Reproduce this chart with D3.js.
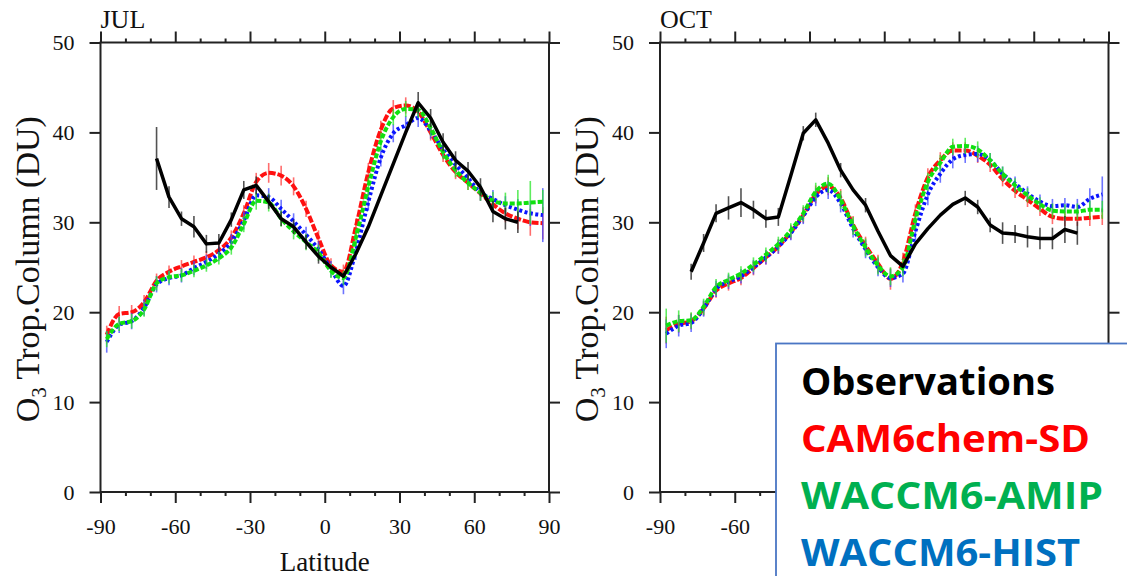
<!DOCTYPE html>
<html>
<head>
<meta charset="utf-8">
<script src="https://cdn.jsdelivr.net/npm/d3@7"></script>
<style>
  html, body { margin: 0; padding: 0; background: #fff; }
  svg { display: block; }
</style>
</head>
<body>
<svg id="chart" width="1127" height="576"></svg>
<script>
// ---- Data: zonal-mean tropospheric ozone column (DU) ----
const modelLat = [-87.5,-82.5,-77.5,-72.5,-67.5,-62.5,-57.5,-52.5,-47.5,-42.5,-37.5,-32.5,-27.5,-22.5,-17.5,-12.5,-7.5,-2.5,
                  2.5,7.5,12.5,17.5,22.5,27.5,32.5,37.5,42.5,47.5,52.5,57.5,62.5,67.5,72.5,77.5,82.5,87.5];

const julCam  = [17.5,19.8,20.0,21.1,23.5,24.5,25.1,25.6,26.1,26.9,28.3,31.0,34.5,35.5,35.2,34.0,31.5,28.2,
                 25.2,24.5,29.5,35.6,40.3,42.7,43.0,42.3,40.0,37.5,35.6,34.4,33.2,32.0,31.0,30.4,30.0,29.9];
const julAmip = [17.0,18.7,19.0,20.3,23.2,23.9,24.1,24.6,25.2,26.0,27.2,29.8,32.4,32.2,30.4,29.0,27.8,26.6,
                 24.6,23.8,28.3,34.0,39.0,41.7,42.6,42.5,40.5,37.8,35.8,34.4,33.3,32.4,32.1,32.1,32.2,32.3];
const julHist = [16.7,18.6,19.0,20.5,23.1,23.8,24.1,24.9,25.6,26.5,27.8,30.2,33.0,32.8,31.5,30.1,28.6,27.0,
                 24.8,22.9,26.8,32.3,37.2,39.9,40.8,41.6,40.2,38.1,36.4,34.9,33.3,32.6,31.9,31.4,31.0,30.8];
const julCamErr  = [1.0,0.9,0.8,0.8,0.8,0.7,0.7,0.7,0.7,0.7,0.8,0.9,1.0,1.1,1.1,1.0,0.9,0.9,
                    0.8,0.8,0.9,1.0,1.0,0.9,0.9,0.9,0.9,0.8,0.8,0.8,0.8,0.9,1.0,1.2,1.5,1.8];
const julAmipErr = [0.9,0.8,0.8,0.8,0.8,0.7,0.7,0.7,0.7,0.7,0.8,0.9,1.0,1.0,0.9,0.9,0.9,0.9,
                    0.8,0.8,0.9,1.0,1.0,0.9,0.9,0.9,0.9,0.8,0.8,0.8,0.9,1.0,1.2,1.5,2.4,1.3];
const julHistErr = [1.2,0.9,0.9,0.9,0.9,0.8,0.8,0.8,0.8,0.8,0.9,1.0,1.0,1.0,1.0,0.9,0.9,0.9,
                    0.9,0.9,1.0,1.0,1.0,1.0,1.0,1.0,0.9,0.9,0.9,0.9,0.9,1.0,1.0,1.2,1.4,3.0];

const octCam  = [18.0,18.7,19.0,20.4,22.4,23.2,23.8,24.9,26.1,27.3,28.9,30.8,33.1,34.0,32.7,29.7,27.4,25.4,
                 23.7,25.6,31.0,35.0,36.9,38.0,38.0,37.4,36.4,34.8,33.5,32.5,31.5,30.6,30.4,30.4,30.5,30.6];
const octAmip = [18.5,19.0,19.1,20.6,22.8,23.6,24.3,25.3,26.4,27.6,29.1,31.0,33.4,34.3,32.5,29.6,27.2,25.2,
                 24.0,25.0,30.3,34.5,36.6,38.4,38.5,38.1,36.9,35.4,34.1,33.0,32.0,31.3,31.2,31.2,31.4,31.4];
const octHist = [17.6,18.5,18.8,20.4,22.6,23.4,24.0,25.0,26.1,27.3,28.8,30.7,32.8,33.6,32.1,29.3,27.0,25.0,
                 23.8,24.3,29.0,33.1,35.4,37.0,37.5,37.6,36.9,35.4,34.3,33.2,32.3,31.8,31.9,31.7,32.6,33.1];
const octCamErr  = [1.5,1.0,0.9,0.8,0.8,0.8,0.8,0.8,0.8,0.8,0.8,0.9,1.0,1.0,1.0,1.0,1.0,1.0,
                    1.2,1.0,1.0,1.0,0.9,0.9,0.9,0.8,0.8,0.8,0.8,0.8,0.8,0.8,0.8,0.8,0.9,0.9];
const octAmipErr = [1.9,1.2,0.9,0.9,0.9,0.8,0.8,0.8,0.8,0.8,0.8,0.9,1.0,1.0,1.0,1.0,1.0,1.0,
                    1.0,1.0,1.0,1.0,0.9,0.9,0.9,0.9,0.8,0.8,0.8,0.8,0.8,0.8,0.8,0.9,1.0,1.0];
const octHistErr = [1.6,1.2,1.0,0.9,0.9,0.8,0.8,0.8,0.8,0.8,0.8,0.9,1.0,1.0,1.0,1.0,1.0,1.0,
                    1.0,1.0,1.2,1.2,1.0,1.0,0.9,0.9,0.8,0.8,0.8,0.8,0.8,0.8,0.8,0.9,1.2,2.0];

const julObsLat = [-67.5,-62.5,-57.5,-52.5,-47.5,-42.5,-37.5,-32.5,-27.5,-22.5,-17.5,-12.5,-7.5,-2.5,
                   2.5,7.5,12.5,17.5,22.5,27.5,32.5,37.5,42.5,47.5,52.5,57.5,62.5,67.5,72.5,77.5];
const julObs    = [37.1,32.8,30.4,29.5,27.6,27.7,30.3,33.6,34.1,32.3,30.4,29.5,27.8,26.2,
                   25.0,24.0,26.5,29.5,33.0,36.5,40.0,43.3,41.6,38.9,36.9,35.7,33.9,31.2,30.4,30.0];
const julObsErr = [3.5,1.2,0.8,1.2,1.0,1.0,0.8,1.0,1.0,0.8,0.8,0.8,0.8,0.8,
                   0,0,0,0,0,0,0,1.2,1.0,1.0,1.0,1.0,1.0,1.2,1.2,1.2];

const octObsLat = [-77.5,-72.5,-67.5,-62.5,-57.5,-52.5,-47.5,-42.5,-37.5,-32.5,-27.5,-22.5,-17.5,-12.5,-7.5,-2.5,
                   2.5,7.5,12.5,17.5,22.5,27.5,32.5,37.5,42.5,47.5,52.5,57.5,62.5,67.5,72.5,77.5];
const octObs    = [24.5,27.7,31.0,31.6,32.2,31.4,30.4,30.6,35.2,39.9,41.4,38.8,35.8,33.6,31.9,29.0,
                   26.3,25.1,27.6,29.3,30.8,32.0,32.7,31.7,29.7,28.8,28.7,28.4,28.2,28.2,29.2,28.8];
const octObsErr = [0.9,1.0,1.0,1.3,1.6,1.0,1.0,1.0,0,0.8,0.8,0,0.8,0,0.8,0,
                   0,0,0,0,0,0,0.8,0.8,0.8,1.2,1.0,1.2,1.2,1.2,1.5,1.3];

const latTicks = [-90,-60,-30,0,30,60,90];
const o3Ticks  = [0,10,20,30,40,50];
const legendNames  = ["Observations","CAM6chem-SD","WACCM6-AMIP","WACCM6-HIST"];
const legendColors = ["#000000","#ff0000","#00b050","#0070c0"];

// ---- Layout ----
const plotW = 448.5, plotTop = 42.5, plotBottom = 492;
const legendBox = { x: 776, y: 343.5, w: 380, h: 260 };

// ---- Panel definitions ----
const panels = [
  { title: "JUL", left: 100.5, showXTitle: true,
    models: [
      { v: julCam,  e: julCamErr,  color: "#ff1010", bar: "rgba(255,60,60,0.75)",  dash: "7,2" },
      { v: julHist, e: julHistErr, color: "#0a14ff", bar: "rgba(60,70,255,0.75)",  dash: "3,2.5" },
      { v: julAmip, e: julAmipErr, color: "#10e010", bar: "rgba(40,230,40,0.75)",  dash: "5,2" }
    ],
    obs: { lat: julObsLat, v: julObs, e: julObsErr } },
  { title: "OCT", left: 660, showXTitle: false,
    models: [
      { v: octCam,  e: octCamErr,  color: "#ff1010", bar: "rgba(255,60,60,0.75)",  dash: "7,2" },
      { v: octHist, e: octHistErr, color: "#0a14ff", bar: "rgba(60,70,255,0.75)",  dash: "3,2.5" },
      { v: octAmip, e: octAmipErr, color: "#10e010", bar: "rgba(40,230,40,0.75)",  dash: "5,2" }
    ],
    obs: { lat: octObsLat, v: octObs, e: octObsErr } }
];

const svg = d3.select("#chart");
const serif = "'Liberation Serif','Times New Roman',serif";
const frameColor = "#222";

panels.forEach(p => {
  const x = d3.scaleLinear().domain([-90, 90]).range([p.left, p.left + plotW]);
  const y = d3.scaleLinear().domain([0, 50]).range([plotBottom, plotTop]);
  const g = svg.append("g");

  // frame
  g.append("rect")
    .attr("x", x(-90)).attr("y", y(50))
    .attr("width", x(90) - x(-90)).attr("height", y(0) - y(50))
    .attr("fill", "none").attr("stroke", frameColor).attr("stroke-width", 2);

  const styleAxis = sel => {
    sel.select(".domain").remove();
    sel.selectAll(".tick line").attr("stroke", frameColor).attr("stroke-width", 2);
    sel.selectAll(".tick text").attr("font-family", serif).attr("font-size", 22).attr("fill", "#111");
  };

  // latitude labels that sit under the legend box are not written
  const latLabel = d => (x(d) - 16 > legendBox.x ? "" : String(d));

  // major ticks, outward on all four sides
  g.append("g").attr("transform", `translate(0,${y(0)})`)
    .call(d3.axisBottom(x).tickValues(latTicks).tickFormat(latLabel).tickSize(11).tickPadding(15))
    .call(styleAxis);
  g.append("g").attr("transform", `translate(0,${y(50)})`)
    .call(d3.axisTop(x).tickValues(latTicks).tickFormat("").tickSize(11))
    .call(styleAxis);
  g.append("g").attr("transform", `translate(${x(-90)},0)`)
    .call(d3.axisLeft(y).tickValues(o3Ticks).tickFormat(d => String(d)).tickSize(11).tickPadding(15))
    .call(styleAxis);
  g.append("g").attr("transform", `translate(${x(90)},0)`)
    .call(d3.axisRight(y).tickValues(o3Ticks).tickFormat("").tickSize(11))
    .call(styleAxis);

  // minor ticks every 10 degrees
  const minorLat = d3.range(-80, 90, 10).filter(d => d % 30 !== 0);
  [[d3.axisBottom, y(0)], [d3.axisTop, y(50)]].forEach(([ax, ty]) => {
    g.append("g").attr("transform", `translate(0,${ty})`)
      .call(ax(x).tickValues(minorLat).tickFormat("").tickSize(4))
      .call(styleAxis);
  });

  // panel title
  g.append("text").attr("x", x(-90)).attr("y", 28)
    .attr("font-family", serif).attr("font-size", 26).attr("fill", "#111")
    .text(p.title);

  // y-axis title with subscript
  const yt = g.append("text")
    .attr("transform", `translate(${p.left - 62},${(plotTop + plotBottom) / 2 + 2}) rotate(-90)`)
    .attr("text-anchor", "middle")
    .attr("font-family", serif).attr("font-size", 34).attr("fill", "#111");
  yt.append("tspan").text("O");
  yt.append("tspan").attr("font-size", 21).attr("dy", 7).text("3");
  yt.append("tspan").attr("dy", -7).text(" Trop.Column (DU)");

  if (p.showXTitle) {
    g.append("text").attr("x", x(0)).attr("y", 571)
      .attr("text-anchor", "middle")
      .attr("font-family", serif).attr("font-size", 27).attr("fill", "#111")
      .text("Latitude");
  }

  // model curves with error bars
  const modelLine = d3.line().x((d, i) => x(modelLat[i])).y(d => y(d)).curve(d3.curveMonotoneX);
  p.models.forEach(m => {
    g.append("g").selectAll("line").data(m.v).join("line")
      .attr("x1", (d, i) => x(modelLat[i])).attr("x2", (d, i) => x(modelLat[i]))
      .attr("y1", (d, i) => y(d - m.e[i])).attr("y2", (d, i) => y(d + m.e[i]))
      .attr("stroke", m.bar).attr("stroke-width", 1.6);
    g.append("path").datum(m.v)
      .attr("d", modelLine)
      .attr("fill", "none").attr("stroke", m.color)
      .attr("stroke-width", 4).attr("stroke-dasharray", m.dash);
  });

  // observations
  const o = p.obs;
  g.append("g").selectAll("line").data(o.v).join("line")
    .attr("x1", (d, i) => x(o.lat[i])).attr("x2", (d, i) => x(o.lat[i]))
    .attr("y1", (d, i) => y(d - o.e[i])).attr("y2", (d, i) => y(d + o.e[i]))
    .attr("stroke", "rgba(40,40,40,0.8)").attr("stroke-width", 1.6);
  g.append("path").datum(o.v)
    .attr("d", d3.line().x((d, i) => x(o.lat[i])).y(d => y(d)))
    .attr("fill", "none").attr("stroke", "#000")
    .attr("stroke-width", 3.5).attr("stroke-linejoin", "round");
});

// legend box
const lg = svg.append("g");
lg.append("rect").attr("x", legendBox.x).attr("y", legendBox.y)
  .attr("width", legendBox.w).attr("height", legendBox.h)
  .attr("fill", "#fff").attr("stroke", "#4a76c4").attr("stroke-width", 1.8);
const legendWidths = [254, 289, 302, 279];
lg.selectAll("text.lbl").data(legendNames).join("text")
  .attr("class", "lbl")
  .attr("x", 801)
  .attr("y", (d, i) => 395 + i * 57)
  .attr("font-family", "'Open Sans','Noto Sans',sans-serif")
  .attr("font-weight", 700).attr("font-size", 37)
  .attr("textLength", (d, i) => legendWidths[i]).attr("lengthAdjust", "spacingAndGlyphs")
  .attr("fill", (d, i) => legendColors[i])
  .text(d => d);
</script>
</body>
</html>
